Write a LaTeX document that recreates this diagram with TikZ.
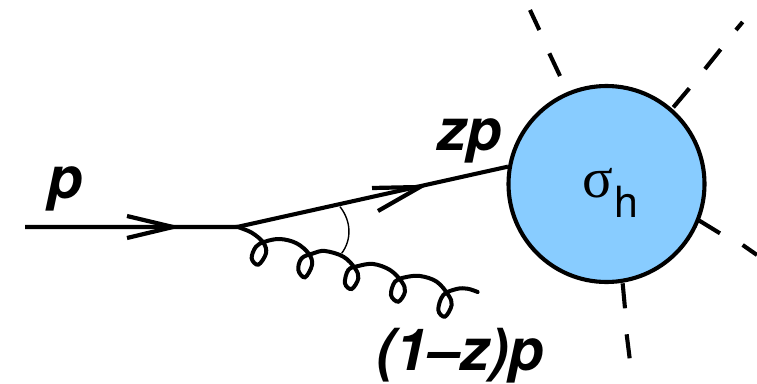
\documentclass[tikz,border=0pt]{standalone}
\usepackage{fontspec}
\setmainfont{TeX Gyre Heros}
\newfontfamily\serifgreek{Liberation Serif}
\newcommand{\lbl}{\fontsize{58}{60}\selectfont\bfseries\itshape}
\definecolor{blobblue}{HTML}{88CCFF}
\begin{document}
\begin{tikzpicture}[x=1pt,y=-1pt,
  fermion/.style={line width=4.1pt,line join=miter},
  barb/.style={line width=4.2pt,line join=miter,miter limit=10},
  dashpiece/.style={line width=4.1pt},
  blob/.style={circle,draw=black,line width=4.1pt,fill=blobblue,minimum size=196pt,inner sep=0pt},
  tag/.style={inner sep=0pt,anchor=base west,font=\lbl}]
\useasboundingbox (0,0) rectangle (757,383);
% anchors
\coordinate (in) at (25,227);
\coordinate (v) at (237,227);
\coordinate (tipA) at (173,227);
\coordinate (a1) at (127,216);
\coordinate (a2) at (127,238);
\coordinate (tipB) at (420,187);
\coordinate (b1) at (372,188);
\coordinate (b2) at (378,211);
\node[blob] (blobnode) at (606.5,184) {};
% fermion lines
\draw[fermion] (in) -- (v) -- (blobnode.170.5);
\draw[barb] (a1) -- (tipA) -- (a2);
\draw[barb] (b1) -- (tipB) -- (b2);
% gluon
\begin{scope}[shift={(230,190)},x=0.3333pt,y=-0.3333pt]
\draw[line width=4pt,line cap=round] plot[smooth,tension=0.6] coordinates {
 (20,110)(65,128)(100,158)(108,190)(85,224)(65,205)(78,170)(105,155)(150,147)(200,160)(237,192)
 (246,225)(225,262)(205,240)(215,205)(250,190)(285,183)(340,200)(375,235)
 (385,265)(365,297)(345,280)(355,240)(385,228)(430,222)(480,240)(515,275)
 (525,305)(505,335)(483,315)(495,275)(525,262)(570,258)(620,275)(655,315)
 (665,345)(645,380)(625,360)(640,315)(680,297)(712,296)(743,306)};
\coordinate (angA) at (330,50);
\coordinate (angB) at (335,190);
\draw[line width=1.4pt] (angA) .. controls (365,95) and (365,150) .. (angB);
\end{scope}
% outgoing dashes
\begin{scope}[shift={(500,0)},x=0.3333pt,y=-0.3333pt]
\draw[dashpiece] (90,30) -- (118,90);
\draw[dashpiece] (148,160) -- (180,228);
\draw[dashpiece] (520,322) -- (568,265);
\draw[dashpiece] (615,207) -- (662,148);
\draw[dashpiece] (708,90) -- (728,66);
\draw[dashpiece] (598,662) -- (660,700);
\draw[dashpiece] (728,735) -- (771,765);
\draw[dashpiece] (368,850) -- (375,925);
\draw[dashpiece] (380,1003) -- (389,1075);
\end{scope}
% labels
\node[tag] (lp) at (47,198) {p};
\node[tag] (lzp) at (437,150) {zp};
\node[tag] (lq) at (376,370.5) {(1–z)p};
\node[inner sep=0pt,anchor=base west] (ls) at (582,197) {\serifgreek\fontsize{57}{60}\selectfont σ};
\node[inner sep=0pt,anchor=base west] (lh) at (614,217) {\fontsize{43}{45}\selectfont h};
\end{tikzpicture}
\end{document}
